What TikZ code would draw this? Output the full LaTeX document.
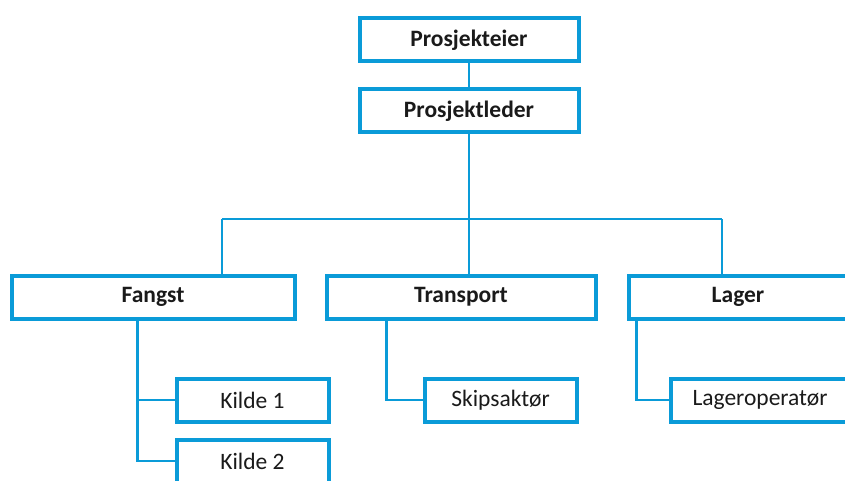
\documentclass[tikz,border=0pt]{standalone}
\usepackage{fontspec}
\setmainfont{Carlito}
\usepackage{tikz}
\usetikzlibrary{positioning,calc}
\definecolor{OrgBlue}{HTML}{0A9BD8}
\definecolor{OrgText}{HTML}{1A1A1A}

\begin{document}
\begin{tikzpicture}[x=1pt,y=-1pt,
  orgbox/.style={draw=OrgBlue,line width=4pt,fill=white,rectangle,minimum height=43pt,inner sep=0pt,text=OrgText,font=\fontsize{23.5}{27}\selectfont},
  headbox/.style={orgbox,font=\fontsize{23.5}{27}\selectfont\bfseries},
  orgline/.style={draw=OrgBlue,line width=2.8pt}]
\useasboundingbox (0,0) rectangle (845,481);
\clip (0,0) rectangle (845,481);
% boxes
\node[headbox,minimum width=219pt] (eier) at (469,40) {Prosjekteier};
\node[headbox,minimum width=219pt] (leder) at (469,111) {Prosjektleder};
\node[headbox,minimum width=283pt] (fangst) at (153,297) {Fangst};
\node[headbox,minimum width=269pt] (transport) at (461,297) {Transport};
\node[headbox,minimum width=219pt] (lager) at (738,297) {Lager};
\node[orgbox,minimum width=152pt] (kilde1) at (252.5,400) {Kilde 1};
\node[orgbox,minimum width=152pt] (kilde2) at (252.5,461) {Kilde 2};
\node[orgbox,minimum width=152pt] (skip) at (500.5,400) {Skipsaktør};
\node[orgbox,minimum width=178pt] (lagerop) at (760,400) {Lageroperatør};
% connectors
\coordinate (barL) at (222,219);
\coordinate (barM) at (leder.south |- barL);
\coordinate (barR) at (722,219);
\coordinate (fangstdrop) at ([xshift=128pt]fangst.south west);
\coordinate (transportdrop) at ([xshift=62pt]transport.south west);
\coordinate (lagerdrop) at ([xshift=10pt]lager.south west);
\draw[orgline] (eier)--(leder);
\draw[orgline] (leder)--(barM);
\draw[orgline] (barL)--(barR);
\draw[orgline] (barL)--(barL |- fangst.north);
\draw[orgline] (barM)--(barM |- transport.north);
\draw[orgline] (barR)--(barR |- lager.north);
\draw[orgline] (fangstdrop) |- (kilde1.west);
\draw[orgline] (fangstdrop) |- (kilde2.west);
\draw[orgline] (transportdrop) |- (skip.west);
\draw[orgline] (lagerdrop) |- (lagerop.west);
\end{tikzpicture}
\end{document}
